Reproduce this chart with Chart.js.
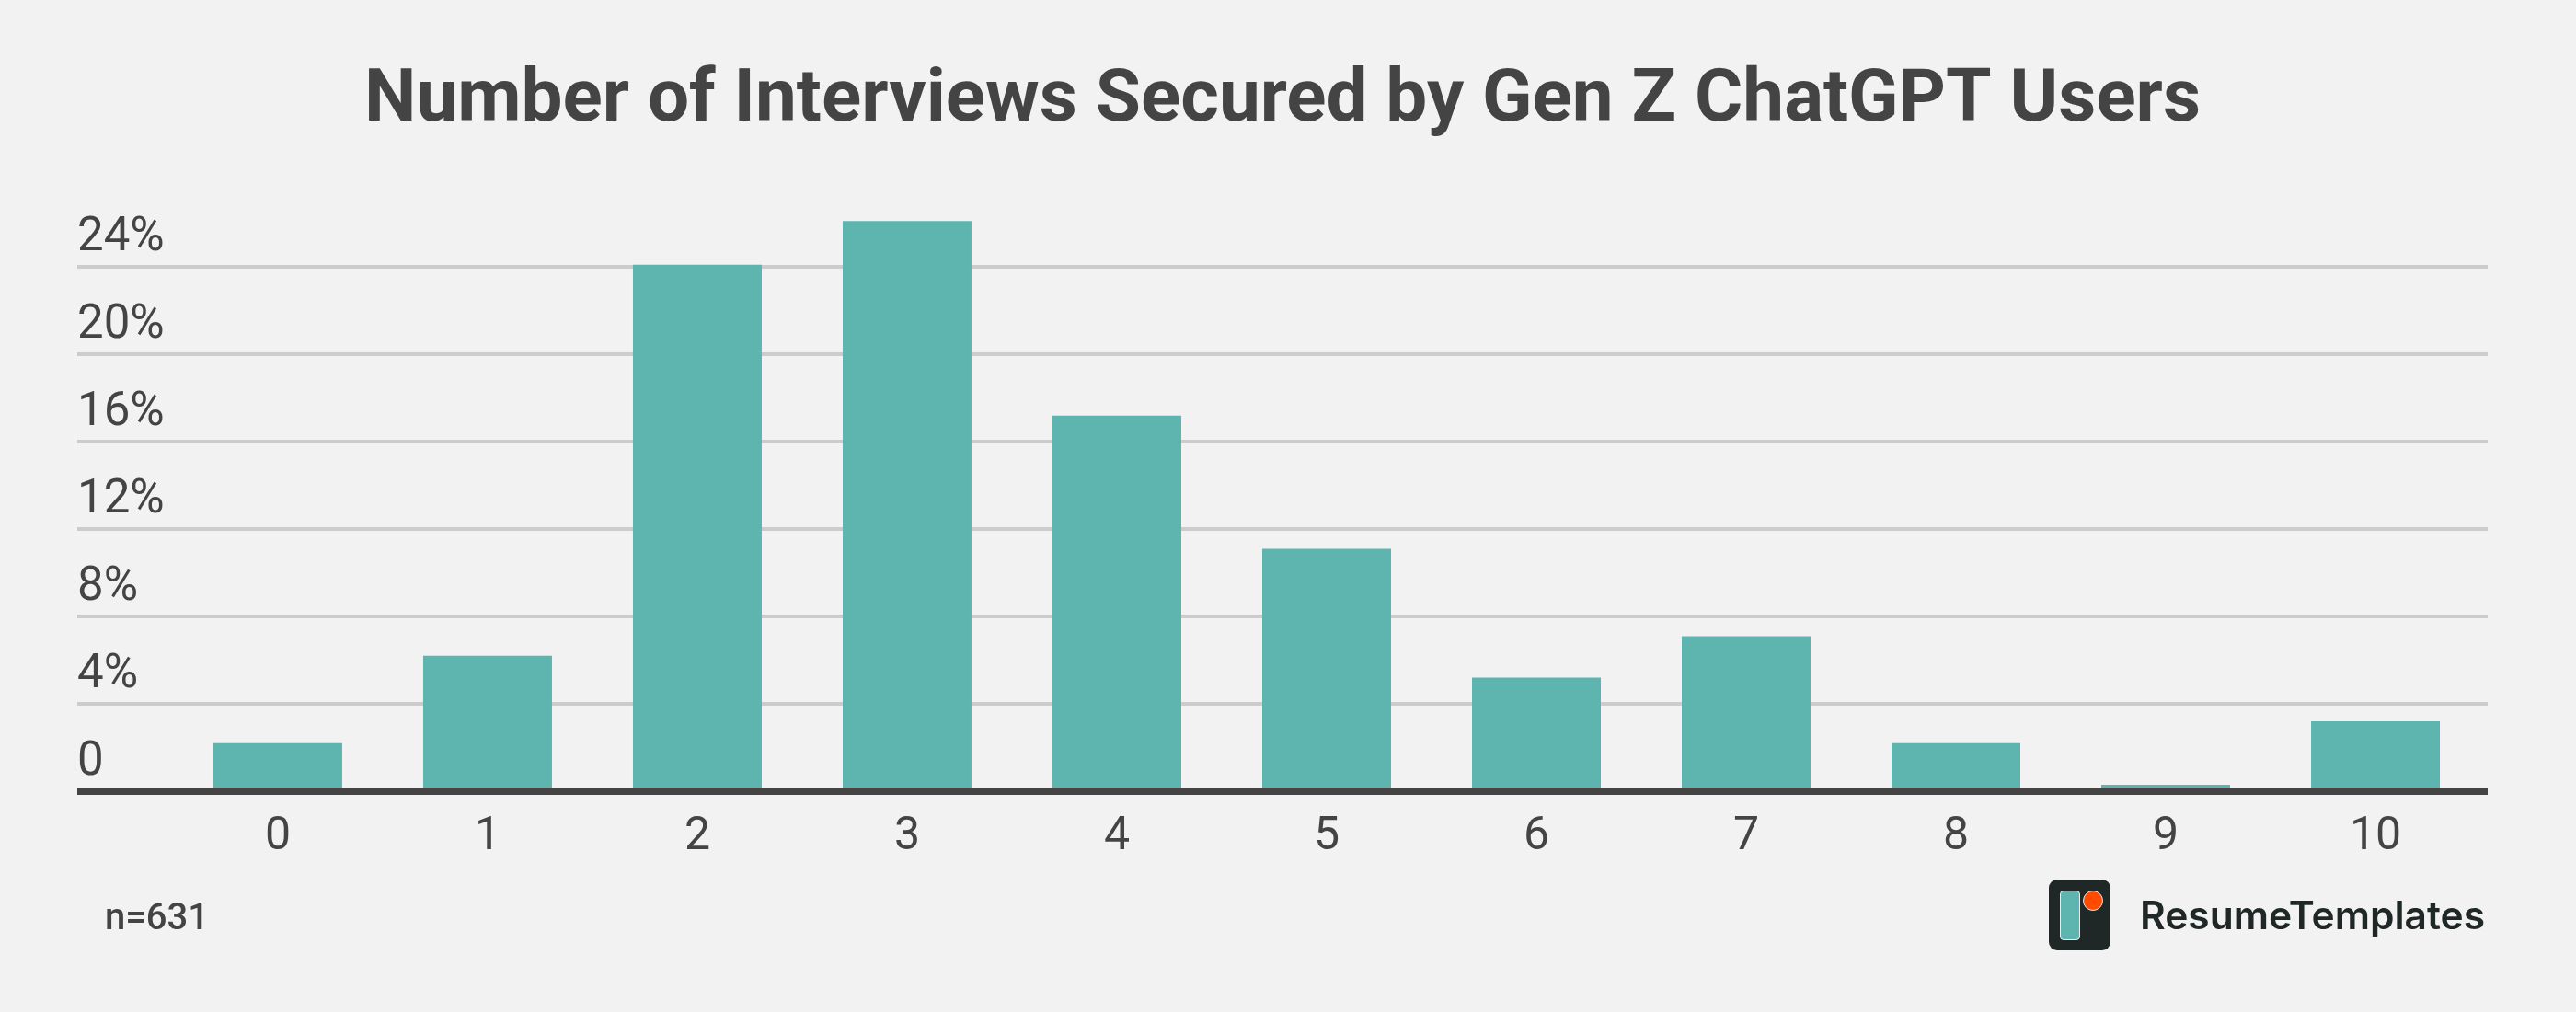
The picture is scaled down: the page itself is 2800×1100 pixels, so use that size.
<!DOCTYPE html>
<html>
<head>
<meta charset="utf-8">
<script src="https://cdn.jsdelivr.net/npm/chart.js@4"></script>
<style>
html,body{margin:0;padding:0;background:#f2f2f2;width:2800px;height:1100px;overflow:hidden}
#wrap{position:relative;width:2800px;height:1100px}
canvas{position:absolute;left:0;top:0}
.t{position:absolute;white-space:nowrap;line-height:1}
#n{left:114px;top:973px;font:500 40px Roboto,sans-serif;color:#444}
#brand{left:2326px;top:969px;font:600 42.5px Inter,sans-serif;color:#1f2826}
#logo{position:absolute;left:2227px;top:956px;width:67px;height:77px;background:#1f2826;border-radius:9px}
#logo i{position:absolute;display:block;box-sizing:border-box;border:1px solid #e8eeee}
#logo .a{left:12px;top:12px;width:22px;height:54px;background:#5eb5af;border-radius:4px}
#logo .b{left:37px;top:12px;width:22px;height:22px;background:#ff4b00;border-radius:50%}
</style>
</head>
<body>
<div id="wrap">
<canvas id="c" width="2800" height="1100"></canvas>
<div class="t" id="n">n=631</div>
<div id="logo"><i class="a"></i><i class="b"></i></div>
<div class="t" id="brand">ResumeTemplates</div>
</div>
<script>
const titleText = "Number of Interviews Secured by Gen Z ChatGPT Users";
const categories = [0,1,2,3,4,5,6,7,8,9,10];
const shares = [2.2,6.2,24.1,26.1,17.2,11.1,5.2,7.1,2.2,0.3,3.2];
const yTickValues = [0,4,8,12,16,20,24];
const yTickLabels = ["0","4%","8%","12%","16%","20%","24%"];

const TEXT = "#444444";
const baseline = {
  id: "baseline",
  afterDatasetsDraw(chart) {
    const { ctx, chartArea, scales } = chart;
    const y = scales.y.getPixelForValue(0);
    ctx.save();
    ctx.strokeStyle = "#444444";
    ctx.lineWidth = 8;
    ctx.beginPath();
    ctx.moveTo(chartArea.left, y);
    ctx.lineTo(chartArea.right, y);
    ctx.stroke();
    ctx.restore();
  }
};
new Chart(document.getElementById("c"), {
  type: "bar",
  plugins: [baseline],
  data: {
    datasets: [{
      data: categories.map((c,i)=>({x:c,y:shares[i]})),
      backgroundColor: "#5eb5af",
      borderWidth: 0,
      barPercentage: 140/228,
      categoryPercentage: 1
    }]
  },
  options: {
    responsive: false,
    devicePixelRatio: 1,
    animation: false,
    layout: { padding: { left: 84, right: 96, top: 0, bottom: 164 } },
    plugins: {
      legend: { display: false },
      tooltip: { enabled: false },
      title: {
        display: true,
        text: titleText,
        color: TEXT,
        font: { family: "Roboto", size: 80, weight: "700", lineHeight: 1.2 },
        padding: { top: 63, bottom: 60 }
      }
    },
    scales: {
      x: {
        type: "linear",
        offset: false,
        min: -0.956,
        max: 10.535,
        afterBuildTicks: s => { s.ticks = categories.map(value=>({value})); },
        afterFit: s => { s.height = 76; },
        grid: { display: false, drawTicks: false },
        border: { display: false },
        ticks: {
          color: TEXT, autoSkip: false, maxRotation: 0, padding: 20,
          font: { family: "Roboto", size: 50 },
          callback: v => String(v)
        }
      },
      y: {
        min: 0,
        max: 27,
        afterBuildTicks: s => { s.ticks = yTickValues.map(value=>({value})); },
        grid: { color: "#cccccc", lineWidth: 4, drawTicks: false },
        border: { display: false },
        ticks: {
          mirror: true, padding: 0, labelOffset: -31,
          color: TEXT, autoSkip: false,
          font: { family: "Roboto", size: 51 },
          callback: v => yTickLabels[yTickValues.indexOf(v)]
        }
      }
    }
  }
});
</script>
</body>
</html>
